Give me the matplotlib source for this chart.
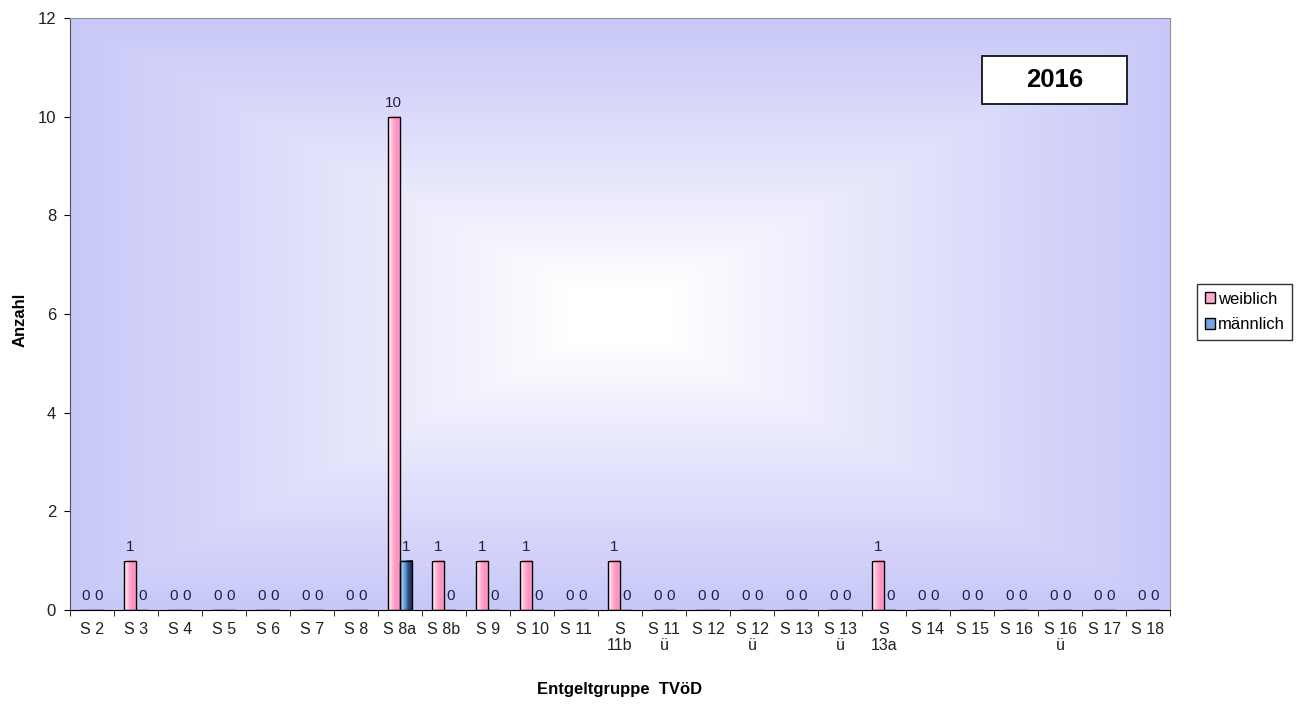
import numpy as np
import matplotlib
matplotlib.use('Agg')
import matplotlib.pyplot as plt
from matplotlib.patches import Patch, Rectangle
from matplotlib.colors import LinearSegmentedColormap

plt.rcParams['font.family'] = ['Liberation Sans', 'DejaVu Sans']

categories = ['S 2', 'S 3', 'S 4', 'S 5', 'S 6', 'S 7', 'S 8', 'S 8a', 'S 8b', 'S 9',
              'S 10', 'S 11', 'S 11b', 'S 11 ü', 'S 12', 'S 12 ü', 'S 13', 'S 13 ü',
              'S 13a', 'S 14', 'S 15', 'S 16', 'S 16 ü', 'S 17', 'S 18']
tick_labels = ['S 2', 'S 3', 'S 4', 'S 5', 'S 6', 'S 7', 'S 8', 'S 8a', 'S 8b', 'S 9',
               'S 10', 'S 11', 'S\n11b', 'S 11\nü', 'S 12', 'S 12\nü', 'S 13', 'S 13\nü',
               'S\n13a', 'S 14', 'S 15', 'S 16', 'S 16\nü', 'S 17', 'S 18']
weiblich = [0, 1, 0, 0, 0, 0, 0, 10, 1, 1, 1, 0, 1, 0, 0, 0, 0, 0, 1, 0, 0, 0, 0, 0, 0]
maennlich = [0, 0, 0, 0, 0, 0, 0, 1, 0, 0, 0, 0, 0, 0, 0, 0, 0, 0, 0, 0, 0, 0, 0, 0, 0]
year = '2016'

fig = plt.figure(figsize=(13.1, 7.06), dpi=100)
ax = fig.add_axes([70 / 1310, 1 - 610 / 706, 1100 / 1310, 592 / 706])

n = len(categories)
x = np.arange(n)
w = 0.28

# background: rectangular gradient white centre -> lavender edges
gx = np.linspace(-1, 1, 400)
gy = np.linspace(-1, 1, 300)
GX, GY = np.meshgrid(gx, gy)
d = np.maximum(np.abs(GX), np.abs(GY))
d = np.clip((d - 0.1) / 0.9, 0, 1) ** 0.9
edge = np.array([200, 200, 248]) / 255
bg = np.ones((300, 400, 3)) * (1 - d[..., None]) + edge * d[..., None]
ax.imshow(bg, extent=[-0.5, n - 0.5, 0, 12], aspect='auto', zorder=0)

pink = LinearSegmentedColormap.from_list('p', ['#ffffff', '#ffb8d6', '#ff8fbf', '#ffa8cf'])
blue = LinearSegmentedColormap.from_list('b', ['#b8dcff', '#6fa8e0', '#2a4a80', '#1a2850'])
grad = np.linspace(0, 1, 64).reshape(1, -1)

bars_w = ax.bar(x - w / 2, weiblich, w, facecolor='none', edgecolor='black', lw=1, zorder=3)
bars_m = ax.bar(x + w / 2, maennlich, w, facecolor='none', edgecolor='black', lw=1, zorder=3)

# gradient fill inside the bars
for bars, cmap in ((bars_w, pink), (bars_m, blue)):
    for b in bars:
        h = b.get_height()
        if h > 0:
            x0 = b.get_x()
            ax.imshow(grad, cmap=cmap, extent=[x0, x0 + b.get_width(), 0, h],
                      aspect='auto', zorder=2)

for bars in (bars_w, bars_m):
    for b in bars:
        ax.annotate(f'{int(b.get_height())}', (b.get_x() + b.get_width() / 2, b.get_height()),
                    xytext=(0, 5), textcoords='offset points', ha='center', va='bottom',
                    fontsize=11, color='#1e1e50')

ax.set_xlim(-0.5, n - 0.5)
ax.set_ylim(0, 12)
ax.set_yticks(range(0, 13, 2))
ax.set_xticks(x)
ax.set_xticklabels(tick_labels, fontsize=11.5, linespacing=1.05, color='#202020')
ax.set_xticks(np.arange(-0.5, n, 1), minor=True)
ax.tick_params(axis='x', which='major', length=0, pad=9)
ax.tick_params(axis='x', which='minor', length=4, direction='out')
ax.tick_params(axis='y', length=4, direction='out', labelsize=12, pad=6, labelcolor='#202020')
for s in ('top', 'right'):
    ax.spines[s].set_color('#909090')
ax.spines['left'].set_color('#505050')
ax.spines['bottom'].set_color('black')

ax.set_ylabel('Anzahl', fontsize=12, fontweight='bold')
ax.yaxis.set_label_coords(-0.039, 0.49)
ax.set_xlabel('Entgeltgruppe  TVöD', fontsize=12, fontweight='bold')
ax.xaxis.set_label_coords(0.5, -0.122)

# year box
ax.add_patch(Rectangle((0.829, 0.855), 0.132, 0.081, transform=ax.transAxes,
                       facecolor='white', edgecolor='black', lw=1.2, zorder=5))
ax.text(0.895, 0.8955, year, transform=ax.transAxes, ha='center', va='center',
        fontsize=18.5, fontweight='bold', zorder=6)

handles = [Patch(facecolor='#ffa8cf', edgecolor='black', label='weiblich'),
           Patch(facecolor='#6fa8e0', edgecolor='black', label='männlich')]
leg = fig.legend(handles=handles, loc='center left', bbox_to_anchor=(1197 / 1310, 1 - 312 / 706),
                 fontsize=12, frameon=True, fancybox=False, edgecolor='black',
                 handlelength=0.6, handleheight=0.6, handletextpad=0.2, borderpad=0.45,
                 labelspacing=0.65, borderaxespad=0)
leg.get_frame().set_linewidth(1)

fig.savefig('out.png', dpi=100)
